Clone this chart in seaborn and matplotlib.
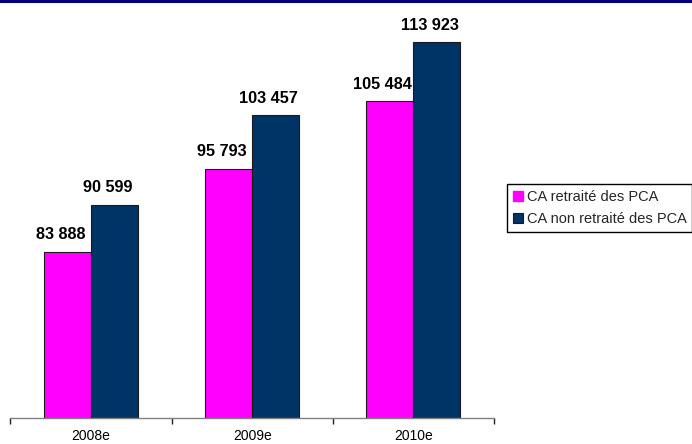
import matplotlib
matplotlib.use("Agg")
import matplotlib.pyplot as plt
from matplotlib.lines import Line2D
from matplotlib.patches import Patch
import seaborn as sns
import pandas as pd

# Chiffre d'affaires estimé par année
annees = ["2008e", "2009e", "2010e"]
series = ["CA retraité des PCA", "CA non retraité des PCA"]
ca_retraite = [83888, 95793, 105484]
ca_non_retraite = [90599, 103457, 113923]
couleurs = ["#FF00FF", "#003366"]

df = pd.DataFrame({
    "annee": annees * 2,
    "serie": [series[0]] * 3 + [series[1]] * 3,
    "ca": ca_retraite + ca_non_retraite,
})

sns.set_theme(style="white")
plt.rcParams["font.family"] = ["Liberation Sans", "DejaVu Sans"]

W, H = 692, 444
fig = plt.figure(figsize=(W / 100, H / 100), dpi=100)
ax = fig.add_axes([10.3 / W, (H - 418) / H, (494 - 10.3) / W, 418 / H])

sns.barplot(data=df, x="annee", y="ca", hue="serie", order=annees,
            hue_order=series, palette=couleurs, width=0.583, gap=0,
            edgecolor="#1a1a1a", linewidth=0.8, saturation=1,
            ax=ax, legend=False)

ax.set_ylim(60000, 120000)
ax.set_xlim(-0.5, 2.5)
ax.set_xlabel("")
ax.set_ylabel("")
ax.set_yticks([])
for s in ["left", "top", "right"]:
    ax.spines[s].set_visible(False)
ax.spines["bottom"].set_color("#808080")
ax.spines["bottom"].set_linewidth(1.0)

ax.set_xticks(range(len(annees)))
ax.set_xticklabels(annees, fontsize=10, color="black")
ax.tick_params(axis="x", which="both", bottom=True)
ax.tick_params(axis="x", which="major", length=0, pad=8)
ax.set_xticks([-0.5, 0.5, 1.5, 2.5], minor=True)
ax.tick_params(axis="x", which="minor", length=4, width=1,
               color="#202020", direction="out")

# Valeurs au-dessus des barres
for cont in ax.containers:
    for bar, val in zip(cont, cont.datavalues):
        txt = f"{int(val):,}".replace(",", " ")
        ax.annotate(txt, (bar.get_x() + bar.get_width() / 2, bar.get_height()),
                    xytext=(-7, 12.5), textcoords="offset pixels",
                    ha="center", va="baseline", fontsize=11.7,
                    fontweight="bold", color="black")

handles = [Patch(facecolor=couleurs[0], edgecolor=couleurs[0]),
           Patch(facecolor=couleurs[1], edgecolor="#1a1a1a", linewidth=0.8)]
leg = fig.legend(handles, series, loc="upper left",
                 bbox_to_anchor=(507 / W, 1 - 184 / H),
                 bbox_transform=fig.transFigure, borderaxespad=0,
                 fontsize=10.5, frameon=True, fancybox=False,
                 handlelength=0.7, handleheight=0.7, handletextpad=0.25,
                 labelspacing=0.55, borderpad=0.4)
leg.get_frame().set_edgecolor("black")
leg.get_frame().set_linewidth(1.0)
leg.get_frame().set_facecolor("white")
leg.get_frame().set_alpha(1)

# Filet bleu en haut de page
fig.add_artist(Line2D([0, 1], [1 - 1 / H, 1 - 1 / H], transform=fig.transFigure,
                      color="#000080", linewidth=2.2))

fig.savefig("out.png", dpi=100)
